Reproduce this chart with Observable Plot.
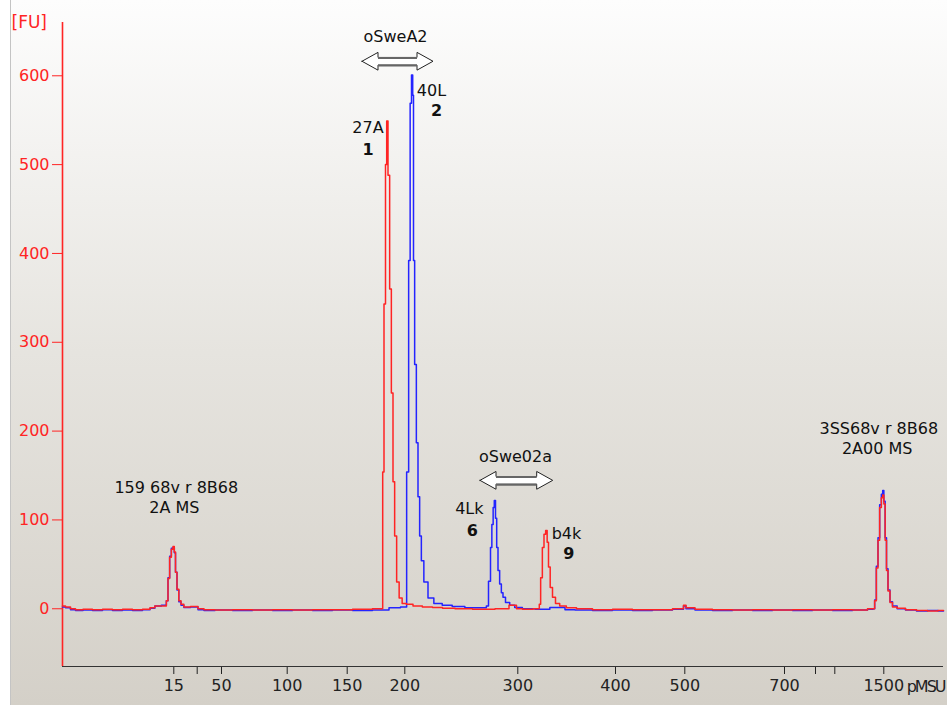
<!DOCTYPE html>
<html><head><meta charset="utf-8">
<script src="https://cdn.jsdelivr.net/npm/d3@7"></script>
<script src="https://cdn.jsdelivr.net/npm/@observablehq/plot@0.6"></script>
<style>
html,body{margin:0;padding:0;background:#fff;}
#wrap{position:relative;width:947px;height:705px;overflow:hidden;background:#fff;}
#bg{position:absolute;left:10px;top:0;width:937px;height:705px;background:linear-gradient(to bottom,#fdfdfd 0%,#e6e4df 50%,#d4d0c8 100%);border-left:1px solid #c4c4c4;}
#chart{position:absolute;left:0;top:0;}
</style></head><body>
<div id="wrap"><div id="bg"></div><div id="chart"></div></div>
<script>
// x: migration time (s), y: fluorescence [FU]
const tickPos = [31.13, 33.47, 35.9, 42.47, 48.47, 54.23, 65.53, 75.3, 82.23, 92.2, 95.3, 97.23, 102.13];
const tickLabels = ["15", "", "50", "100", "150", "200", "300", "400", "500", "700", "", "", "1500"];
const yTicks = [0, 100, 200, 300, 400, 500, 600];

const redTrace = [
 [20.0,3],[20.6,2],[21.0,0],[21.6,-1],[22.5,-0.5],[23.5,-1],[24.5,-0.5],[25.5,-1],[26.5,-0.5],[27.5,-1],[28.5,-0.5],
 [29.0,1],[29.47,3],[30.3,3],[30.47,9],[30.63,34],[30.8,58],[30.97,67],[31.13,70],[31.23,64],[31.37,41],[31.53,22],
 [31.73,9],[31.97,5],[32.3,2],[33.3,2.5],[33.8,0],[34.5,-1],[36,-1.5],[38,-1],[40,-1.5],[42,-1],[44,-1.5],[46,-1],
 [48,-1],[50,-0.5],[51.97,0],[52.07,154],[52.23,343],[52.37,500],[52.47,549],[52.63,488],[52.8,360],[52.97,243],
 [53.13,143],[53.3,82],[53.53,30],[53.8,12],[54.13,6],[54.63,5],[55.47,3],[56.5,2],[57.5,1.5],[58.5,0.5],[60,0],
 [62,-0.5],[64.5,0],[64.8,4],[65.3,4],[65.5,0],[66.5,-0.5],[67.63,0],[67.73,5],[67.9,35],[68.07,69],[68.23,84],
 [68.4,88],[68.53,75],[68.67,47],[68.87,24],[69.13,13],[69.47,6],[69.97,3],[70.8,1],[72,0],[74,-1],[76,-0.5],
 [78,-1],[80,-1],[82.0,0],[82.2,4],[82.5,1],[84,-0.5],[86,-1],[88,-1.5],[90,-1],[92,-1.5],[94,-1],[96,-1.5],
 [98,-1],[100,-1.5],[101.0,0],[101.13,0],[101.3,9],[101.47,46],[101.63,77],[101.8,114],[101.97,125],[102.07,128],
 [102.2,118],[102.33,77],[102.47,43],[102.63,20],[102.87,7],[103.13,2],[103.8,0.5],[104.8,-1],[106,-2],[107,-2.5],[108.1,-2]
];

const blueTrace = [
 [20.0,2],[20.6,1],[21.0,-1],[21.6,-2],[22.5,-1.5],[23.5,-2],[24.5,-1],[25.5,-2],[26.5,-1.5],[27.5,-2],[28.5,-1],
 [29.0,0.5],[29.47,3],[30.3,4],[30.47,9],[30.63,35],[30.8,59],[30.97,68],[31.13,69],[31.23,63],[31.37,41],[31.53,21],
 [31.73,8],[31.97,4],[32.3,1.5],[33.3,2],[33.8,-1],[34.5,-2],[36,-1.5],[38,-2],[40,-1.5],[42,-2],[44,-1.5],[46,-2],
 [48,-1.5],[50,-2],[52,-1.5],[53.3,1],[54.3,2],[54.53,154],[54.7,392],[54.83,569],[54.97,601],[55.07,578],[55.13,392],
 [55.3,275],[55.47,187],[55.63,126],[55.8,82],[55.97,54],[56.3,30],[56.8,12],[57.47,6],[58.47,4],[59.47,2.5],[61,1],
 [62.3,1],[62.47,3],[62.73,31],[62.87,69],[63.0,95],[63.13,114],[63.23,122],[63.37,102],[63.47,69],[63.63,43],
 [63.8,28],[63.97,18],[64.13,13],[64.47,7],[64.97,4],[65.47,1.5],[66.5,0],[68,-0.5],[69.47,1.5],[70,1.5],[70.5,-1],
 [72,-1.5],[74,-2],[76,-1.5],[78,-2],[80,-1.5],[82.0,-0.5],[82.2,3],[82.5,0],[84,-1.5],[86,-2],[88,-1.5],[90,-2],
 [92,-1.5],[94,-2],[96,-1.5],[98,-2],[100,-1.5],[101.0,-0.5],[101.13,0],[101.3,10],[101.47,48],[101.63,80],[101.8,117],
 [101.97,129],[102.07,133],[102.2,121],[102.33,80],[102.47,45],[102.63,21],[102.87,8],[103.13,3],[103.8,0],[104.8,-1.5],
 [106,-2.5],[107,-2],[108.1,-2.5]
];

const annText = ["oSweA2", "27A", "40L", "oSwe02a", "4Lk", "b4k", "159 68v r 8B68", "2A MS", "3SS68v r 8B68", "2A00 MS"];
const annT = [53.3, 50.55, 56.9, 65.3, 60.68, 70.4, 31.38, 31.18, 101.63, 101.47];
const annFU = [644, 541, 583, 171, 112.6, 84, 136, 113.7, 202.6, 179.8];

const peakNum = ["1", "2", "6", "9"];
const peakNumT = [50.55, 57.4, 60.97, 70.63];
const peakNumFU = [517, 560.6, 88, 62];

const arrowX1 = [50.0, 61.8];
const arrowX2 = [57.1, 69.07];
const arrowFU = [615.8, 144];

// ---- build tables ----
const RED = "#ff2424", BLUE = "#2424ff";
const labelMap = new Map(tickPos.map((p, i) => [p, tickLabels[i]]));
const ann = annText.map((t, i) => ({text: t, t: annT[i], fu: annFU[i]}));
const nums = peakNum.map((t, i) => ({text: t, t: peakNumT[i], fu: peakNumFU[i]}));
const arrows = arrowX1.map((x1, i) => ({g: i, x1, x2: arrowX2[i], y: arrowFU[i]}));
const hl = 1.6, hh = 10, sh = 4.3;
const poly = arrows.flatMap(a => [
  {g: a.g, x: a.x1, lo: a.y, hi: a.y},
  {g: a.g, x: a.x1 + hl, lo: a.y - hh, hi: a.y + hh},
  {g: a.g, x: a.x1 + hl, lo: a.y - sh, hi: a.y + sh},
  {g: a.g, x: a.x2 - hl, lo: a.y - sh, hi: a.y + sh},
  {g: a.g, x: a.x2 - hl, lo: a.y - hh, hi: a.y + hh},
  {g: a.g, x: a.x2, lo: a.y, hi: a.y}
]);

const chart = Plot.plot({
  width: 947, height: 705,
  marginLeft: 62, marginRight: 4, marginTop: 22, marginBottom: 39,
  style: {background: "transparent", fontFamily: "DejaVu Sans", fontSize: "16px", overflow: "visible"},
  x: {domain: [20, 108.1], label: null},
  y: {domain: [-65, 660], label: null},
  marks: [
    Plot.axisY(yTicks, {color: RED, tickSize: 10, tickPadding: 3, label: null}),
    Plot.axisX(tickPos, {color: "#222", tickSize: 8, tickPadding: 5, tickFormat: d => labelMap.get(d), label: null}),
    Plot.ruleX([20], {stroke: RED, strokeWidth: 1.6}),
    Plot.ruleY([-65], {stroke: "#333", strokeWidth: 1}),
    Plot.line(blueTrace, {x: d => d[0], y: d => d[1], stroke: BLUE, strokeWidth: 1.5, curve: "step"}),
    Plot.line(redTrace, {x: d => d[0], y: d => d[1], stroke: RED, strokeWidth: 1.5, curve: "step"}),
    Plot.area(poly, {x1: "x", y1: "lo", y2: "hi", z: "g", fill: "white", stroke: "#222", strokeWidth: 1, curve: "linear"}),
    Plot.ruleY(arrows, {x1: d => d.x1 + hl, x2: d => d.x2 - hl, y: d => d.y + sh, stroke: "#666", strokeWidth: 2}),
    Plot.ruleY(arrows, {x1: d => d.x1 + hl, x2: d => d.x2 - hl, y: d => d.y - sh, stroke: "#666", strokeWidth: 2}),
    Plot.text(ann, {x: "t", y: "fu", text: "text", fill: "#111"}),
    Plot.text(nums, {x: "t", y: "fu", text: "text", fill: "#111", fontWeight: "bold"}),
    Plot.text(["[FU]"], {frameAnchor: "top-left", lineAnchor: "middle", text: d => d, textAnchor: "start", dx: -51, dy: 0, fill: RED, fontSize: 17}),
    Plot.text(["pMSU"], {frameAnchor: "bottom-right", lineAnchor: "middle", text: d => d, textAnchor: "end", dx: 1, dy: 20, fill: "#222"})
  ]
});
document.getElementById("chart").appendChild(chart);
chart.querySelectorAll("text").forEach(t => {
  if (t.textContent === "pMSU") t.setAttribute("letter-spacing", "-2");
});
</script>
</body></html>
